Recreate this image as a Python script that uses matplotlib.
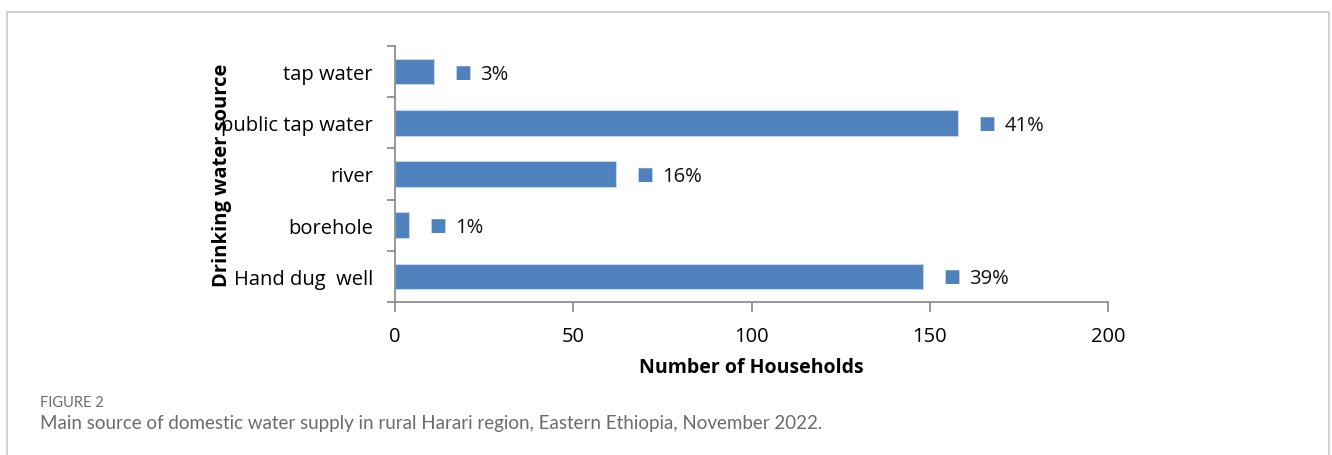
import matplotlib
matplotlib.use("Agg")
import matplotlib.pyplot as plt
from matplotlib.patches import Rectangle

categories = ["Hand dug  well", "borehole", "river", "public tap water", "tap water"]
households = [148, 4, 62, 158, 11]
percent_labels = ["39%", "1%", "16%", "41%", "3%"]
x_ticks = [0, 50, 100, 150, 200]

BAR = "#4F81BD"
AX = "#868686"
W, H, DPI = 1332, 456, 100

fig = plt.figure(figsize=(W / DPI, H / DPI), dpi=DPI)
fig.patch.set_facecolor("white")

frame = Rectangle((7 / W, -0.1), (1329 - 7) / W, 1.1 - 13 / H,
                  transform=fig.transFigure, fill=False, edgecolor="#c8c8c8", linewidth=1.2)
fig.patches.append(frame)

ax = fig.add_axes([395 / W, 1 - 303 / H, (1108 - 395) / W, (303 - 47) / H])
ypos = list(range(len(categories)))
ax.barh(ypos, households, height=0.5, color=BAR, edgecolor="#c5d4e8", linewidth=0.8, zorder=2)
ax.set_xlim(0, 200)
ax.set_ylim(-0.5, 4.5)
ax.set_xticks(x_ticks)
ax.set_yticks([i - 0.5 for i in range(len(categories) + 1)])
ax.set_yticklabels([])
ax.set_yticks(ypos, minor=True)
ax.set_yticklabels(categories, minor=True)
ax.tick_params(axis="y", which="minor", length=0, pad=16, labelsize=14.5)
ax.tick_params(axis="y", which="major", length=6, color=AX, width=1.2)
ax.tick_params(axis="x", length=7, color=AX, width=1.2, labelsize=14.5, pad=10, direction="out")
for lab in ax.get_yticklabels(minor=True) + ax.get_xticklabels():
    lab.set_family("Open Sans")
for s in ["top", "right"]:
    ax.spines[s].set_visible(False)
for s in ["left", "bottom"]:
    ax.spines[s].set_color(AX)
    ax.spines[s].set_linewidth(1.2)

for y, v, lab in zip(ypos, households, percent_labels):
    ax.annotate("\u25A0", xy=(v, y), xytext=(29, 0), textcoords="offset pixels",
                ha="center", va="center", color=BAR, fontsize=13, family="DejaVu Sans")
    ax.annotate(lab, xy=(v, y), xytext=(46, -2), textcoords="offset pixels",
                ha="left", va="center", color="#111111", fontsize=14.5, family="Open Sans")

ax.set_xlabel("Number of Households", fontsize=14, fontweight="bold", family="Open Sans", labelpad=8)
fig.text(222 / W, 1 - 175 / H, "Drinking water source", rotation=90, ha="center", va="center",
         fontsize=14.5, fontweight="bold", family="Open Sans")

fig.text(40 / W, 1 - 403 / H, "FIGURE 2", fontsize=10.5, color="#6b6b6b", va="center", family="Lato")
fig.text(40 / W, 1 - 424 / H,
         "Main source of domestic water supply in rural Harari region, Eastern Ethiopia, November 2022.",
         fontsize=13.5, color="#6b6b6b", va="center", family="Lato")

fig.savefig("out.png", dpi=DPI)
